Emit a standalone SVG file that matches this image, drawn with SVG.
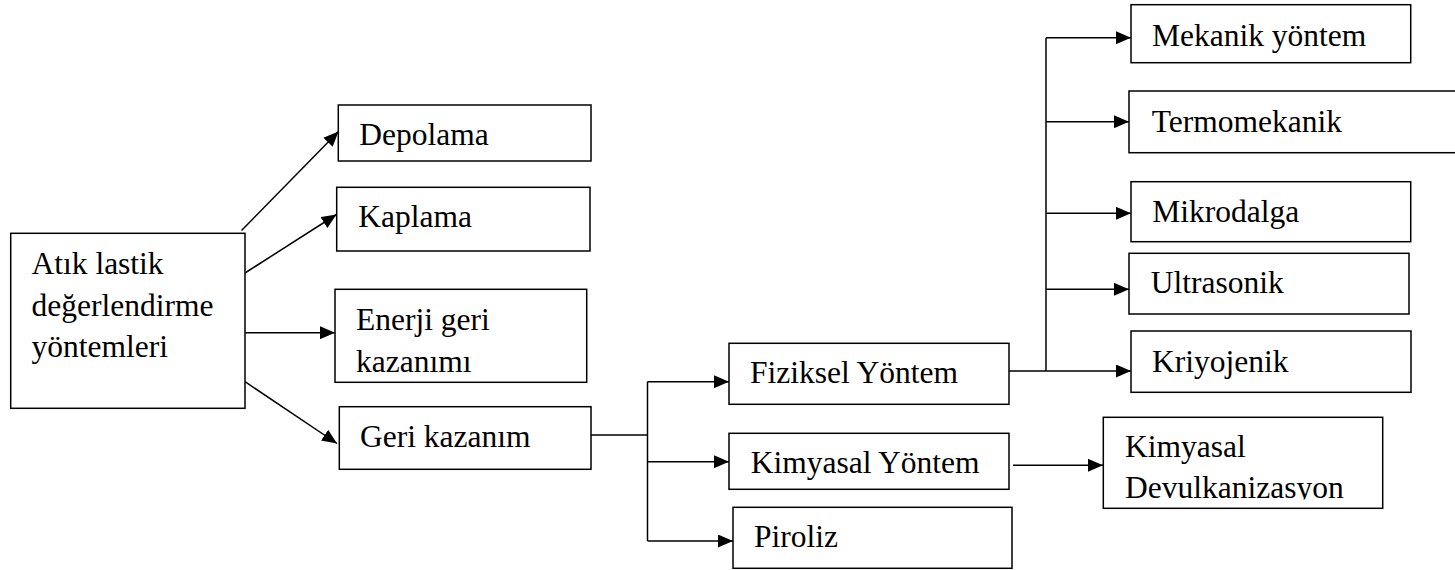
<svg xmlns="http://www.w3.org/2000/svg" width="1455" height="570" viewBox="0 0 1455 570">
<style>
.box{fill:#fff;stroke:#000;stroke-width:1.5}
.t{font-family:"Liberation Serif","Times New Roman",serif;font-size:31.5px;fill:#000}
.c{fill:none;stroke:#000;stroke-width:1.5}
.a{marker-end:url(#arr)}
</style>
<defs>
<marker id="arr" markerUnits="userSpaceOnUse" markerWidth="15" markerHeight="13" refX="15" refY="6.5" orient="auto">
<path d="M0,0 L15,6.5 L0,13 z" fill="#000"/>
</marker>
<clipPath id="clipDev"><rect x="1103" y="417" width="280" height="82.5"/></clipPath>
</defs>
<rect width="1455" height="570" fill="#fff"/>

<g id="connectors">
<line class="c a" x1="241.5" y1="230.5" x2="338.5" y2="131.5"/>
<line class="c a" x1="245" y1="273" x2="336.5" y2="214.5"/>
<line class="c a" x1="245" y1="332.7" x2="335" y2="332.7"/>
<line class="c a" x1="245" y1="381.7" x2="337" y2="443.5"/>
<polyline class="c" points="591,435 647.5,435"/>
<line class="c" x1="647.5" y1="381.7" x2="647.5" y2="541"/>
<line class="c a" x1="647.5" y1="381.7" x2="729" y2="381.7"/>
<line class="c a" x1="647.5" y1="461.7" x2="729" y2="461.7"/>
<line class="c a" x1="647.5" y1="541" x2="733" y2="541"/>
<line class="c" x1="1046" y1="37.7" x2="1046" y2="371"/>
<line class="c a" x1="1009" y1="371" x2="1131" y2="371"/>
<line class="c a" x1="1046" y1="37.7" x2="1131" y2="37.7"/>
<line class="c a" x1="1046" y1="121.7" x2="1129" y2="121.7"/>
<line class="c a" x1="1046" y1="213.3" x2="1131" y2="213.3"/>
<line class="c a" x1="1046" y1="289.3" x2="1129" y2="289.3"/>
<line class="c a" x1="1013" y1="465.3" x2="1103" y2="465.3"/>
</g>

<g id="node-main">
<rect class="box" x="10.7" y="233.3" width="234.3" height="175"/>
<text class="t" x="31.5" y="274">Atık lastik</text>
<text class="t" x="31.5" y="315.5">değerlendirme</text>
<text class="t" x="31.5" y="357.3">yöntemleri</text>
</g>
<g id="node-depolama">
<rect class="box" x="338.3" y="105" width="252.7" height="56"/>
<text class="t" x="359.3" y="145">Depolama</text>
</g>
<g id="node-kaplama">
<rect class="box" x="336.7" y="187.3" width="253.3" height="63.7"/>
<text class="t" x="358.3" y="227.3">Kaplama</text>
</g>
<g id="node-enerji">
<rect class="box" x="335" y="289.3" width="251.7" height="93"/>
<text class="t" x="356" y="330">Enerji geri</text>
<text class="t" x="356" y="371.7">kazanımı</text>
</g>
<g id="node-geri">
<rect class="box" x="339.3" y="406.7" width="251.7" height="62.6"/>
<text class="t" x="360" y="446.7">Geri kazanım</text>
</g>
<g id="node-fiziksel">
<rect class="box" x="729" y="343.3" width="280" height="61"/>
<text class="t" x="750" y="383.3">Fiziksel Yöntem</text>
</g>
<g id="node-kimyasal">
<rect class="box" x="729" y="433.3" width="280" height="56"/>
<text class="t" x="750.7" y="473.3">Kimyasal Yöntem</text>
</g>
<g id="node-piroliz">
<rect class="box" x="733" y="507.3" width="279" height="61"/>
<text class="t" x="754" y="547.3">Piroliz</text>
</g>
<g id="node-mekanik">
<rect class="box" x="1131" y="4.7" width="279.7" height="58"/>
<text class="t" x="1152" y="45.7">Mekanik yöntem</text>
</g>
<g id="node-termomekanik">
<rect class="box" x="1129" y="91" width="335" height="61.7"/>
<text class="t" x="1151.7" y="131.7">Termomekanik</text>
</g>
<g id="node-mikrodalga">
<rect class="box" x="1131" y="181.7" width="279.7" height="60"/>
<text class="t" x="1152.3" y="221.7">Mikrodalga</text>
</g>
<g id="node-ultrasonik">
<rect class="box" x="1129" y="253.3" width="280" height="60.7"/>
<text class="t" x="1150.7" y="293.3">Ultrasonik</text>
</g>
<g id="node-kriyojenik">
<rect class="box" x="1131" y="331" width="280" height="61.3"/>
<text class="t" x="1152" y="371.7">Kriyojenik</text>
</g>
<g id="node-devulkanizasyon">
<rect class="box" x="1103.3" y="417.3" width="279.4" height="91"/>
<text class="t" x="1125" y="456.7">Kimyasal</text>
<text class="t" x="1125" y="498.3" clip-path="url(#clipDev)">Devulkanizasyon</text>
</g>
</svg>
